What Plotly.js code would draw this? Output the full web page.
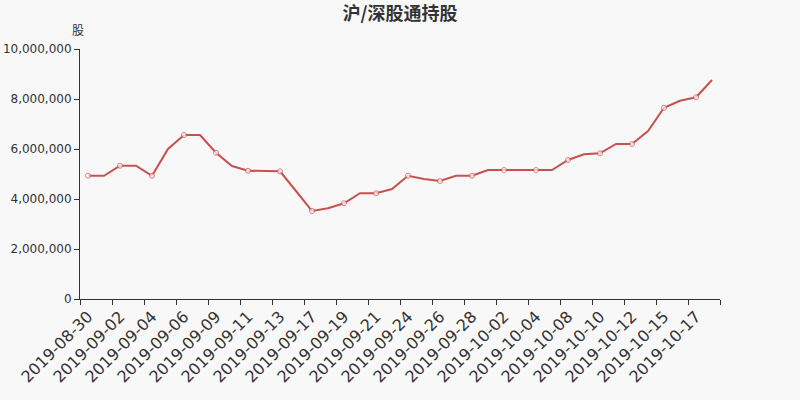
<!DOCTYPE html>
<html>
<head>
<meta charset="utf-8">
<script src="https://cdn.plot.ly/plotly-3.0.1.min.js"></script>
<style>
html,body{margin:0;padding:0;background:#f8f8f8;}
#chart{width:800px;height:400px;}
</style>
</head>
<body>
<div id="chart"></div>
<script>
// Data
var dates = [
  "2019-08-30","2019-08-31","2019-09-02","2019-09-03","2019-09-04","2019-09-05",
  "2019-09-06","2019-09-07","2019-09-09","2019-09-10","2019-09-11","2019-09-12",
  "2019-09-13","2019-09-16","2019-09-17","2019-09-18","2019-09-19","2019-09-20",
  "2019-09-21","2019-09-23","2019-09-24","2019-09-25","2019-09-26","2019-09-27",
  "2019-09-28","2019-09-30","2019-10-02","2019-10-03","2019-10-04","2019-10-07",
  "2019-10-08","2019-10-09","2019-10-10","2019-10-11","2019-10-12","2019-10-14",
  "2019-10-15","2019-10-16","2019-10-17","2019-10-18"
];
var holdings = [
  4930000,4930000,5330000,5330000,4930000,6000000,
  6560000,6560000,5850000,5320000,5130000,5120000,
  5110000,4320000,3520000,3630000,3830000,4230000,
  4230000,4400000,4930000,4800000,4720000,4930000,
  4930000,5160000,5160000,5160000,5160000,5160000,
  5560000,5790000,5830000,6200000,6200000,6720000,
  7650000,7930000,8070000,8760000
];
var tickLabels = [
  "2019-08-30","2019-09-02","2019-09-04","2019-09-06","2019-09-09",
  "2019-09-11","2019-09-13","2019-09-17","2019-09-19","2019-09-21",
  "2019-09-24","2019-09-26","2019-09-28","2019-10-02","2019-10-04",
  "2019-10-08","2019-10-10","2019-10-12","2019-10-15","2019-10-17"
];
var yTicks = [0, 2000000, 4000000, 6000000, 8000000, 10000000];

var idx = dates.map(function(d, i){ return i; });
var labelPos = tickLabels.map(function(l){ return dates.indexOf(l); });
var boundaryPos = [];
for (var b = -0.5; b <= dates.length - 0.5; b += 2) boundaryPos.push(b);
var markerSizes = idx.map(function(i){ return i % 2 === 0 ? 5 : 0; });

var red = '#c8504f';
var axisColor = '#333333';
var font = 'DejaVu Sans, Noto Sans CJK SC, sans-serif';

var traces = [
  {
    x: idx, y: holdings, type: 'scatter', mode: 'lines+markers',
    line: {color: red, width: 2},
    marker: {size: markerSizes, color: '#ffffff', line: {color: red, width: 1}},
    hoverinfo: 'skip', showlegend: false, xaxis: 'x', yaxis: 'y'
  },
  {
    x: [idx[0]], y: [holdings[0]], type: 'scatter', mode: 'markers',
    marker: {size: 1, opacity: 0}, hoverinfo: 'skip', showlegend: false,
    xaxis: 'x2', yaxis: 'y'
  }
];

var layout = {
  width: 800, height: 400,
  paper_bgcolor: '#f8f8f8', plot_bgcolor: '#f8f8f8',
  margin: {l: 80, r: 80, t: 49, b: 101},
  font: {family: font, color: axisColor, size: 12},
  title: {
    text: '<b>沪/深股通持股</b>',
    font: {family: 'Noto Sans CJK SC, sans-serif', size: 18, color: '#333333'},
    x: 0.5, xanchor: 'center', y: 0.965, yref: 'container', yanchor: 'middle'
  },
  xaxis: {
    type: 'linear', range: [-0.5, dates.length - 0.5],
    tickmode: 'array', tickvals: labelPos, ticktext: tickLabels,
    ticks: '', tickangle: -45, ticklabelstandoff: 1,
    tickfont: {family: font, size: 16, color: axisColor},
    showline: true, linecolor: axisColor, linewidth: 1,
    showgrid: false, zeroline: false, fixedrange: true
  },
  xaxis2: {
    type: 'linear', range: [-0.5, dates.length - 0.5], overlaying: 'x', anchor: 'y', side: 'bottom',
    tickmode: 'array', tickvals: boundaryPos, showticklabels: false,
    ticks: 'outside', ticklen: 5, tickcolor: axisColor, tickwidth: 1,
    showline: false, showgrid: false, zeroline: false
  },
  yaxis: {
    range: [0, 10000000],
    tickmode: 'array', tickvals: yTicks,
    ticktext: yTicks.map(function(v){ return v.toLocaleString('en-US'); }),
    ticks: 'outside', ticklen: 5, tickcolor: axisColor, tickwidth: 1,
    tickfont: {family: font, size: 12, color: axisColor},
    showline: true, linecolor: axisColor, linewidth: 1,
    showgrid: false, zeroline: false
  },
  annotations: [{
    text: '股', xref: 'paper', yref: 'paper', x: 0, y: 1,
    xanchor: 'center', yanchor: 'middle', xshift: -2, yshift: 20,
    showarrow: false, font: {family: 'Noto Sans CJK SC, sans-serif', size: 12, color: axisColor}
  }]
};

Plotly.newPlot('chart', traces, layout, {displayModeBar: false, staticPlot: true});
</script>
</body>
</html>
